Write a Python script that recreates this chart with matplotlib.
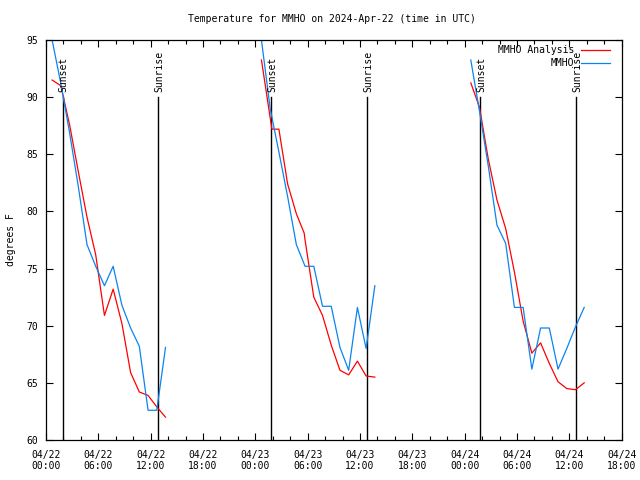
import matplotlib
matplotlib.use('Agg')
import matplotlib.pyplot as plt
from matplotlib.ticker import FixedLocator, MultipleLocator
from datetime import datetime, timedelta

# hours since 2024-04-22 00:00 UTC
obs_t1 = [0.7, 1.7, 2.7, 3.7, 4.7, 5.7, 6.7, 7.7, 8.7, 9.7, 10.7, 11.7, 12.7, 13.7]
obs_v1 = [95.0, 91.2, 86.9, 82.2, 77.1, 75.2, 73.5, 75.2, 71.8, 69.8, 68.2, 62.6, 62.6, 68.1]
obs_t2 = [24.7, 25.7, 26.7, 27.7, 28.7, 29.7, 30.7, 31.7, 32.7, 33.7, 34.7, 35.7, 36.7, 37.7]
obs_v2 = [95.0, 89.0, 85.2, 81.3, 77.1, 75.2, 75.2, 71.7, 71.7, 68.1, 66.1, 71.6, 68.0, 73.5]
obs_t3 = [48.7, 49.7, 50.7, 51.7, 52.7, 53.7, 54.7, 55.7, 56.7, 57.7, 58.7, 59.7, 60.7, 61.7]
obs_v3 = [93.25, 88.75, 84.0, 78.8, 77.2, 71.6, 71.6, 66.2, 69.8, 69.8, 66.2, 68.0, 69.9, 71.6]

ana_t1 = [0.7, 1.7, 2.7, 3.7, 4.7, 5.7, 6.7, 7.7, 8.7, 9.7, 10.7, 11.7, 12.7, 13.7]
ana_v1 = [91.5, 91.0, 87.6, 83.5, 79.5, 76.2, 70.9, 73.2, 70.2, 65.9, 64.2, 63.9, 62.9, 62.0]
ana_t2 = [24.7, 25.7, 25.9, 26.7, 27.7, 28.7, 29.6, 29.7, 30.7, 31.7, 32.7, 33.7, 34.7, 35.7, 36.7, 37.7]
ana_v2 = [93.25, 88.2, 87.2, 87.2, 82.4, 79.8, 78.1, 77.5, 72.5, 70.9, 68.3, 66.1, 65.7, 66.9, 65.6, 65.5]
ana_t3 = [48.7, 49.7, 50.7, 51.7, 52.7, 53.7, 54.7, 55.7, 56.7, 57.7, 58.7, 59.7, 60.7, 61.7]
ana_v3 = [91.25, 89.1, 84.6, 81.0, 78.5, 74.7, 70.4, 67.6, 68.5, 66.7, 65.1, 64.5, 64.4, 65.0]

sunset_t = [1.91, 25.84, 49.8]
sunrise_t = [12.88, 36.85, 60.8]

RED = '#ff0000'
BLUE = '#0a84f0'
FONT = 'DejaVu Sans Mono'
FS = 7

plt.rcParams['font.family'] = FONT
fig = plt.figure(figsize=(6.4, 4.8), dpi=100)
ax = fig.add_axes([46/640, 40/480, (621.7-46)/640, 400/480])

# sunrise/sunset lines
for t in sunset_t:
    ax.plot([t, t], [60, 90], color='black', lw=1.0)
    ax.text(t + 0.1, 90.45, 'Sunset', rotation=90, ha='center', va='bottom', fontsize=FS)
for t in sunrise_t:
    ax.plot([t, t], [60, 90], color='black', lw=1.0)
    ax.text(t + 0.1, 90.45, 'Sunrise', rotation=90, ha='center', va='bottom', fontsize=FS)

first = True
for tt, vv in [(ana_t1, ana_v1), (ana_t2, ana_v2), (ana_t3, ana_v3)]:
    ax.plot(tt, vv, color=RED, lw=0.9, label='MMHO Analysis' if first else None)
    first = False
first = True
for tt, vv in [(obs_t1, obs_v1), (obs_t2, obs_v2), (obs_t3, obs_v3)]:
    ax.plot(tt, vv, color=BLUE, lw=0.9, label='MMHO' if first else None)
    first = False

ax.set_xlim(0, 66)
ax.set_ylim(60, 95)

base = datetime(2024, 4, 22)
major = list(range(0, 67, 6))
ax.xaxis.set_major_locator(FixedLocator(major))
ax.set_xticklabels([(base + timedelta(hours=h)).strftime('%m/%d\n%H:%M') for h in major])
ax.xaxis.set_minor_locator(MultipleLocator(2))
ax.yaxis.set_major_locator(MultipleLocator(5))

ax.tick_params(which='both', direction='in', top=True, right=True, labelsize=FS, width=0.8)
ax.tick_params(which='major', length=5)
ax.tick_params(which='minor', length=3)
ax.tick_params(axis='y', pad=6)
ax.tick_params(axis='x', pad=7)
for s in ax.spines.values():
    s.set_linewidth(0.9)

fig.text(332/640, 1 - 19/480, 'Temperature for MMHO on 2024-Apr-22 (time in UTC)',
         ha='center', va='center', fontsize=FS)
fig.text(11/640, 1 - 240/480, 'degrees F', rotation=90, ha='center', va='center', fontsize=FS)

leg = ax.legend(loc='upper right', bbox_to_anchor=((610-46)/575.7, 1 - 5/400), frameon=False,
                markerfirst=False, fontsize=FS, handlelength=3.0, handletextpad=0.7,
                labelspacing=0.35, borderpad=0, borderaxespad=0)

fig.savefig('out.png', dpi=100)
